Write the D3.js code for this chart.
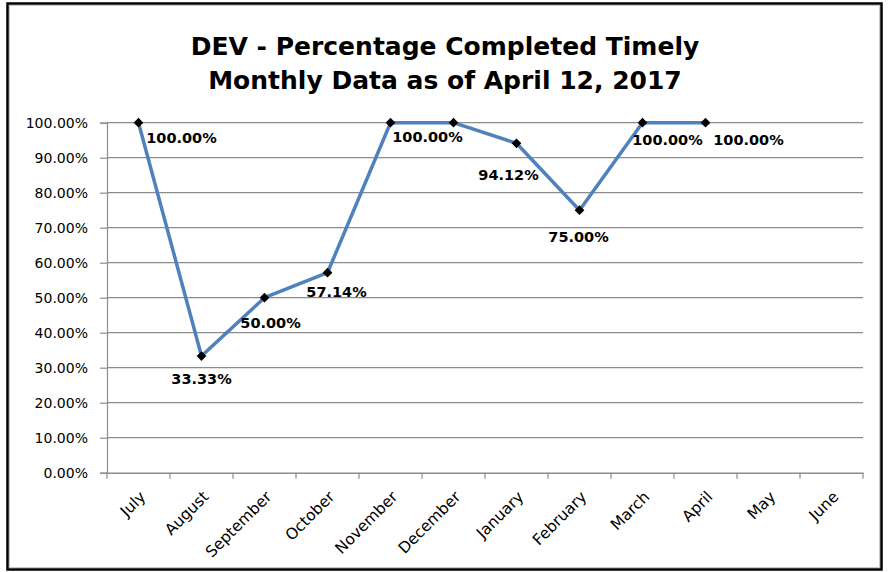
<!DOCTYPE html>
<html>
<head>
<meta charset="utf-8">
<script src="https://cdn.jsdelivr.net/npm/d3@7"></script>
<style>
  html, body { margin: 0; padding: 0; background: #fff; }
  svg { display: block; }
</style>
</head>
<body>
<svg id="chart" width="889" height="572"></svg>
<script>
// ---- data ----
const titleLines = ["DEV - Percentage Completed Timely", "Monthly Data as of April 12, 2017"];
const months = ["July", "August", "September", "October", "November", "December",
                "January", "February", "March", "April", "May", "June"];
const pctCompleted = [1.0, 0.3333, 0.5, 0.5714, 1.0, 1.0, 0.9412, 0.75, 1.0, 1.0, null, null];
const yTicks = [0, 0.1, 0.2, 0.3, 0.4, 0.5, 0.6, 0.7, 0.8, 0.9, 1.0];
// data label placement relative to each point (null = label not shown)
const labelOffsets = [[43, 15], [0, 23], [6, 25], [9, 19], [37, 14], null,
                      [-8, 32], [-1, 27], [25, 17], [43, 17], null, null];

// ---- layout ----
const W = 889, H = 572;
const plot = { left: 107, right: 863, top: 122.7, bottom: 472.7 };
const svg = d3.select("#chart");

// chart border
svg.append("rect").attr("x", 7.5).attr("y", 3.5).attr("width", 874).attr("height", 566)
  .attr("fill", "#fff").attr("stroke", "#000").attr("stroke-width", 2.5);
svg.append("rect").attr("x", 9.5).attr("y", 5.5).attr("width", 870).attr("height", 562)
  .attr("fill", "none").attr("stroke", "#c8c8c8").attr("stroke-width", 1);

// title
const title = svg.append("text").attr("text-anchor", "middle")
  .attr("font-family", "'DejaVu Sans', sans-serif").attr("font-weight", "bold")
  .attr("font-size", 25).attr("fill", "#000");
titleLines.forEach((t, i) => {
  title.append("tspan").attr("x", 445).attr("y", 55 + i * 34).text(t);
});

const x = d3.scaleBand().domain(months).range([plot.left, plot.right]).padding(0);
const y = d3.scaleLinear().domain([0, 1]).range([plot.bottom, plot.top]);
const cx = m => x(m) + x.bandwidth() / 2;
const fmt = d3.format(".2%");

// gridlines
svg.append("g").selectAll("line").data(yTicks.filter(d => d > 0)).join("line")
  .attr("x1", plot.left).attr("x2", plot.right)
  .attr("y1", d => y(d)).attr("y2", d => y(d))
  .attr("stroke", "#8c8c8c").attr("stroke-width", 1.2);

// y axis
const yAxis = svg.append("g").attr("transform", `translate(${plot.left},0)`)
  .call(d3.axisLeft(y).tickValues(yTicks).tickFormat(fmt).tickSize(7).tickPadding(12));
yAxis.select(".domain").attr("stroke", "#8c8c8c").attr("stroke-width", 1.2);
yAxis.selectAll(".tick line").attr("stroke", "#8c8c8c").attr("stroke-width", 1.2);
yAxis.selectAll(".tick text").attr("font-family", "'DejaVu Sans', sans-serif")
  .attr("font-size", 14).attr("fill", "#000");

// x axis
const xAxis = svg.append("g").attr("transform", `translate(0,${plot.bottom})`)
  .call(d3.axisBottom(x).tickSize(0).tickFormat(""));
xAxis.select(".domain").attr("stroke", "#8c8c8c").attr("stroke-width", 1.5);
const boundaries = months.map(m => x(m)).concat([plot.right]);
xAxis.append("g").selectAll("line").data(boundaries).join("line")
  .attr("x1", d => d).attr("x2", d => d).attr("y1", 0).attr("y2", 6)
  .attr("stroke", "#8c8c8c").attr("stroke-width", 1.2);
svg.append("g").selectAll("text").data(months).join("text")
  .attr("transform", m => `translate(${cx(m) + 8},${plot.bottom + 25}) rotate(-45)`)
  .attr("text-anchor", "end")
  .attr("font-family", "'DejaVu Sans', sans-serif").attr("font-size", 15.5)
  .attr("fill", "#000").text(m => m);

// line
const pts = months.map((m, i) => ({ m, v: pctCompleted[i], off: labelOffsets[i] }))
  .filter(d => d.v !== null);
svg.append("path").datum(pts)
  .attr("d", d3.line().x(d => cx(d.m)).y(d => y(d.v)))
  .attr("fill", "none").attr("stroke", "#4f81bd").attr("stroke-width", 3.5)
  .attr("stroke-linejoin", "round");

// markers
svg.append("g").selectAll("path").data(pts).join("path")
  .attr("transform", d => `translate(${cx(d.m)},${y(d.v)})`)
  .attr("d", d3.symbol(d3.symbolDiamond2, 60)())
  .attr("fill", "#000");

// data labels
svg.append("g").selectAll("text").data(pts.filter(d => d.off)).join("text")
  .attr("x", d => cx(d.m) + d.off[0]).attr("y", d => y(d.v) + d.off[1])
  .attr("text-anchor", "middle").attr("dominant-baseline", "central")
  .attr("font-family", "'DejaVu Sans', sans-serif").attr("font-weight", "bold")
  .attr("font-size", 14.5).attr("fill", "#000").text(d => fmt(d.v));
</script>
</body>
</html>
